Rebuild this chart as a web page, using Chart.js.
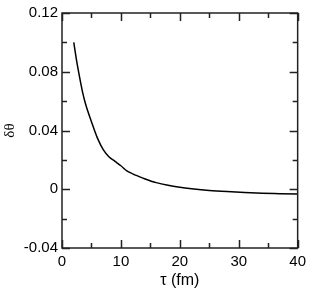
<!DOCTYPE html>
<html>
<head>
<meta charset="utf-8">
<script src="https://cdn.jsdelivr.net/npm/chart.js@4"></script>
<style>
  html, body { margin: 0; padding: 0; background: #fff; }
  #wrap { width: 311px; height: 290px; }
</style>
</head>
<body>
<div id="wrap"><canvas id="chart" width="311" height="290"></canvas></div>
<script>
// curve
const tau = [2, 2.5, 3, 3.5, 4, 5, 6, 7, 8, 9, 10, 11, 12, 13, 14, 16, 18, 20, 22, 25, 28, 31, 34, 37, 40];
const dTheta = [0.100, 0.087, 0.076, 0.066, 0.058, 0.046, 0.035, 0.027, 0.022, 0.019, 0.016, 0.0125, 0.0105,
  0.0088, 0.0072, 0.0045, 0.0027, 0.0014, 0.0004, -0.0008, -0.0016, -0.0022, -0.0027, -0.003, -0.0033];
const xMajor = [0, 10, 20, 30, 40];
const xMinor = [5, 15, 25, 35];
const yMajor = [-0.04, 0, 0.04, 0.08, 0.12];
const yMinor = [-0.02, 0.02, 0.06, 0.10];

const FONT = "'Liberation Sans', Arial, sans-serif";
const SERIF = "'Liberation Serif', 'Times New Roman', serif";

// frame + inward ticks on all four sides
const frameTicks = {
  id: 'frameTicks',
  afterDraw(chart) {
    const { ctx, chartArea: a, scales: { x, y } } = chart;
    ctx.save();
    ctx.strokeStyle = '#222';
    ctx.lineWidth = 1.5;
    ctx.strokeRect(a.left, a.top, a.right - a.left, a.bottom - a.top);
    const tick = (vals, len, isX) => vals.forEach(v => {
      ctx.beginPath();
      if (isX) {
        const px = Math.round(x.getPixelForValue(v)) + 0.5;
        ctx.moveTo(px, a.bottom); ctx.lineTo(px, a.bottom - len);
        ctx.moveTo(px, a.top); ctx.lineTo(px, a.top + len);
      } else {
        const py = Math.round(y.getPixelForValue(v)) + 0.5;
        ctx.moveTo(a.left, py); ctx.lineTo(a.left + len, py);
        ctx.moveTo(a.right, py); ctx.lineTo(a.right - len, py);
      }
      ctx.stroke();
    });
    tick(xMajor, 8, true); tick(xMinor, 5, true);
    tick(yMajor, 8, false); tick(yMinor, 5, false);
    ctx.restore();
  }
};

new Chart(document.getElementById('chart'), {
  type: 'line',
  data: {
    datasets: [{
      data: tau.map((t, i) => ({ x: t, y: dTheta[i] })),
      borderColor: '#000',
      borderWidth: 1.5,
      pointRadius: 0,
      fill: false,
      cubicInterpolationMode: 'monotone'
    }]
  },
  options: {
    responsive: false,
    animation: false,
    layout: { padding: { left: 0, right: 9, top: 9, bottom: 0 } },
    plugins: { legend: { display: false }, tooltip: { enabled: false } },
    scales: {
      x: {
        type: 'linear', min: 0, max: 40,
        afterBuildTicks: s => { s.ticks = xMajor.map(v => ({ value: v })); },
        afterFit: s => { s.height = 42; },
        grid: { display: false, drawTicks: false },
        border: { display: false },
        ticks: { color: '#000', padding: 5, maxRotation: 0, font: { family: FONT, size: 15 } },
        title: { display: true, text: 'τ (fm)', color: '#000', padding: { top: 0, bottom: 0 }, font: { family: FONT, size: 16 } }
      },
      y: {
        type: 'linear', min: -0.04, max: 0.12,
        afterBuildTicks: s => { s.ticks = yMajor.map(v => ({ value: v })); },
        afterFit: s => { s.width = 62; },
        grid: { display: false, drawTicks: false },
        border: { display: false },
        ticks: { color: '#000', padding: 4, font: { family: FONT, size: 15 },
          callback: v => (v === 0 ? '0' : v.toFixed(2)) },
        title: { display: true, text: 'δθ', color: '#000', padding: { top: 1, bottom: 0 }, font: { family: SERIF, size: 15 } }
      }
    }
  },
  plugins: [frameTicks]
});
</script>
</body>
</html>
